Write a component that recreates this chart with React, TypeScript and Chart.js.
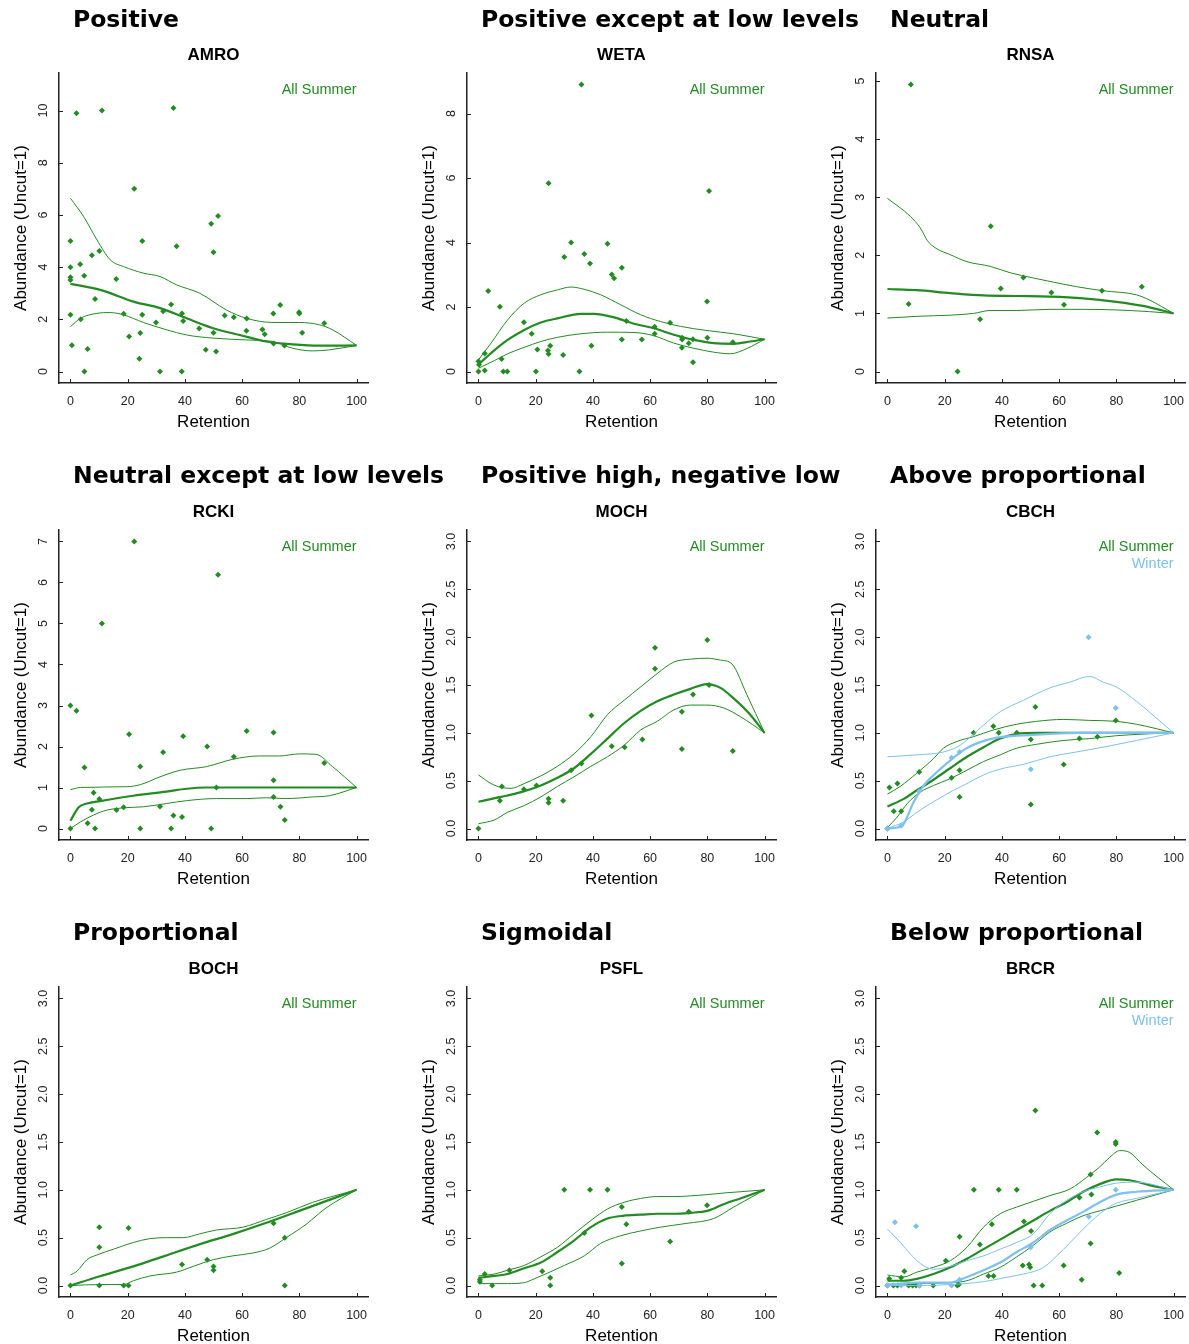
import React, { useEffect, useRef } from 'react';
import { Chart, registerables } from 'chart.js';

Chart.register(...registerables);

type Pt = [number, number];

// ---------------- data ----------------
const X_TICKS = [0, 20, 40, 60, 80, 100];
const Y_TICKS_AMRO = [0, 2, 4, 6, 8, 10];
const Y_TICKS_WETA = [0, 2, 4, 6, 8];
const Y_TICKS_RNSA = [0, 1, 2, 3, 4, 5];
const Y_TICKS_RCKI = [0, 1, 2, 3, 4, 5, 6, 7];
const Y_TICKS_3 = [0, 0.5, 1, 1.5, 2, 2.5, 3];

const AMRO_SUMMER: Pt[] = [[2.1,9.9],[11.0,10.0],[36.0,10.1],[22.3,7.0],[51.6,5.96],[49.2,5.66],[0,5.0],[25.1,5.0],[37.1,4.8],[50.0,4.57],[10.1,4.62],[7.5,4.46],[3.4,4.11],[0,4.0],[4.8,3.67],[0,3.61],[0,3.51],[16.0,3.55],[8.6,2.78],[35.2,2.57],[73.3,2.55],[0,2.18],[18.6,2.21],[25.1,2.18],[39.0,2.22],[32.4,2.31],[3.6,2.0],[39.4,1.94],[29.9,1.88],[53.9,2.15],[57.1,2.08],[61.6,2.03],[70.9,2.22],[79.9,2.27],[80.0,2.22],[88.7,1.85],[45.0,1.65],[61.5,1.56],[67.1,1.61],[67.9,1.43],[50.0,1.49],[81.0,1.49],[20.5,1.34],[24.4,1.48],[71.0,1.07],[74.8,1.0],[0.5,1.01],[6.0,0.86],[47.3,0.83],[50.9,0.77],[24.1,0.49],[4.9,0],[31.3,0],[38.9,0]];
const AMRO_MEAN: Pt[] = [[0,3.36],[10.4,3.13],[22,2.68],[31.3,2.43],[40.6,2.04],[49.9,1.66],[59.2,1.40],[68.4,1.15],[77.7,1.04],[87,0.99],[100,1.0]];
const AMRO_UPPER: Pt[] = [[0,6.64],[4.6,5.94],[9.3,5.04],[13.9,4.28],[18.6,4.02],[25.5,3.77],[31.3,3.64],[37.1,3.32],[45.2,3.0],[54.5,2.36],[61.5,2.04],[70.8,1.88],[80,1.88],[87,1.79],[91.6,1.60],[100,1.0]];
const AMRO_LOWER: Pt[] = [[0,1.72],[3.5,2.04],[9.3,2.23],[13.9,2.26],[18.6,2.17],[25.5,1.88],[33.6,1.60],[40.6,1.40],[49.9,1.28],[61.5,1.21],[70.8,1.15],[77.7,0.89],[84.7,0.79],[90.5,0.83],[100,1.0]];

const WETA_SUMMER: Pt[] = [[36.0,8.9],[24.5,5.84],[80.6,5.60],[32.4,4.0],[45.1,3.96],[37.0,3.64],[30.0,3.55],[39.0,3.35],[50.1,3.22],[46.6,3.01],[47.4,2.89],[3.4,2.50],[79.9,2.17],[7.5,2.01],[15.9,1.53],[51.7,1.57],[67.0,1.51],[61.6,1.39],[18.6,1.17],[61.6,1.17],[71.2,1.05],[71.2,0.99],[80.0,1.05],[50.1,0.99],[57.1,0.99],[75.0,1.0],[73.5,0.88],[88.9,0.91],[71.1,0.74],[20.6,0.68],[25.1,0.80],[39.5,0.80],[24.3,0.65],[24.5,0.54],[2.2,0.56],[29.6,0.51],[8.1,0.39],[75.0,0.29],[0,0.32],[0.2,0.21],[0,0],[2.2,0.03],[8.7,0],[10.1,0],[20.1,0],[35.3,0]];
const WETA_MEAN: Pt[] = [[0,0.21],[4.4,0.57],[10.2,0.98],[16,1.29],[21.8,1.52],[27.6,1.65],[35.8,1.79],[40.4,1.79],[47.4,1.68],[54.4,1.48],[61.3,1.34],[68.3,1.14],[75.3,0.98],[82.2,0.88],[89.2,0.86],[95,0.93],[100,1.0]];
const WETA_UPPER: Pt[] = [[0,0.36],[4.4,0.88],[10.2,1.60],[16,2.12],[21.8,2.38],[27.6,2.53],[32.3,2.62],[36.9,2.55],[42.7,2.38],[49.7,2.07],[56.7,1.76],[63.6,1.55],[70.6,1.40],[79.9,1.27],[89.2,1.17],[100,1.0]];
const WETA_LOWER: Pt[] = [[0,0.10],[5.6,0.34],[10.2,0.55],[16,0.75],[21.8,0.93],[27.6,1.06],[35.8,1.17],[45.1,1.22],[54.4,1.21],[61.3,1.11],[68.3,0.88],[75.3,0.72],[82.2,0.60],[88,0.55],[94,0.72],[100,1.0]];

const RNSA_SUMMER: Pt[] = [[8.2,4.94],[36.1,2.50],[47.5,1.62],[39.6,1.43],[88.9,1.46],[57.3,1.36],[75.0,1.39],[7.4,1.16],[61.7,1.15],[32.4,0.90],[24.5,0]];
const RNSA_MEAN: Pt[] = [[0,1.42],[10.3,1.40],[22,1.35],[33.6,1.31],[45.2,1.30],[56.8,1.29],[68.4,1.26],[80,1.20],[89.3,1.13],[100,1.0]];
const RNSA_UPPER: Pt[] = [[0,2.98],[8,2.67],[11.5,2.47],[14,2.25],[17,2.12],[22,2.01],[27.8,1.89],[35.9,1.81],[42.9,1.70],[51,1.61],[56.8,1.55],[66.1,1.46],[75.4,1.39],[87,1.32],[91.6,1.23],[100,1.0]];
const RNSA_LOWER: Pt[] = [[0,0.92],[10.3,0.95],[22,0.97],[30.1,1.0],[35.9,1.05],[45.2,1.05],[56.8,1.07],[68.4,1.07],[80,1.06],[91.6,1.03],[100,1.0]];

const RCKI_SUMMER: Pt[] = [[22.3,7.0],[51.6,6.19],[11.0,5.0],[0,3.0],[2.1,2.87],[61.6,2.38],[71.0,2.34],[20.5,2.30],[39.4,2.25],[47.8,2.0],[32.4,1.86],[57.1,1.75],[88.7,1.60],[24.4,1.51],[4.9,1.49],[71.0,1.18],[51.0,1.0],[8.1,0.87],[71.0,0.77],[10.1,0.72],[73.4,0.53],[31.3,0.54],[18.6,0.52],[16.1,0.45],[7.5,0.46],[36.0,0.32],[39.0,0.28],[74.9,0.21],[6.0,0.13],[0,0],[8.6,0],[24.4,0],[35.2,0],[49.2,0]];
const RCKI_MEAN: Pt[] = [[0,0.19],[2.9,0.52],[5.8,0.61],[10.4,0.67],[22,0.80],[33.6,0.90],[40.6,0.97],[47.6,1.0],[100,1.0]];
const RCKI_UPPER: Pt[] = [[0,0.95],[3.5,1.0],[19.7,1.02],[24.4,1.07],[31.3,1.26],[38.3,1.42],[47.6,1.51],[56.8,1.69],[66.1,1.77],[73.1,1.77],[80,1.82],[85.8,1.81],[91.6,1.51],[100,1.0]];
const RCKI_LOWER: Pt[] = [[0,0],[3.5,0.16],[8.1,0.33],[12.8,0.45],[19.7,0.51],[25.5,0.53],[33.6,0.61],[40.6,0.68],[51,0.73],[61.5,0.73],[68.4,0.75],[75.4,0.73],[84.7,0.77],[90.5,0.80],[100,1.0]];

const MOCH_SUMMER: Pt[] = [[80.0,1.97],[61.7,1.89],[61.7,1.67],[80.6,1.50],[75.0,1.40],[39.5,1.18],[71.1,1.22],[57.3,0.93],[46.6,0.86],[51.1,0.85],[71.1,0.83],[88.9,0.81],[36.0,0.68],[32.4,0.61],[8.2,0.44],[20.3,0.45],[15.9,0.41],[24.5,0.31],[24.5,0.27],[7.5,0.29],[29.6,0.29],[0,0]];
const MOCH_MEAN: Pt[] = [[0,0.28],[7.9,0.33],[14.9,0.38],[21.8,0.45],[27.6,0.53],[33.4,0.63],[39.3,0.78],[45.1,0.94],[50.9,1.10],[56.7,1.23],[62.5,1.33],[68.3,1.40],[74.1,1.46],[79.9,1.51],[84.6,1.47],[89.2,1.36],[95,1.19],[100,1.0]];
const MOCH_UPPER: Pt[] = [[0,0.56],[4.4,0.47],[7.9,0.43],[11.4,0.42],[16,0.47],[21.8,0.55],[27.6,0.65],[33.4,0.78],[39.3,0.96],[45.1,1.19],[50.9,1.34],[56.7,1.48],[62.5,1.62],[68.3,1.74],[74.1,1.77],[79.9,1.78],[84.6,1.76],[88.6,1.72],[93.8,1.40],[100,1.0]];
const MOCH_LOWER: Pt[] = [[0,0.05],[5.6,0.09],[10.2,0.17],[16,0.24],[21.8,0.33],[27.6,0.44],[33.4,0.54],[39.3,0.65],[45.1,0.75],[50.9,0.87],[56.7,1.03],[62.5,1.12],[68.3,1.24],[74.1,1.29],[79.9,1.29],[85.7,1.26],[91.5,1.17],[100,1.0]];

const CBCH_SUMMER: Pt[] = [[37.0,1.07],[51.7,1.27],[79.8,1.13],[30.1,1.0],[38.9,1.0],[45.2,1.0],[50.1,0.93],[67.1,0.94],[73.4,0.96],[61.6,0.67],[11.1,0.59],[25.2,0.61],[22.4,0.53],[0.7,0.43],[3.5,0.47],[25.2,0.33],[50.1,0.25],[2.2,0.18],[4.8,0.18],[0,0]];
const CBCH_MEAN: Pt[] = [[0,0.23],[5.7,0.31],[10.3,0.40],[16.1,0.51],[21.9,0.63],[27.8,0.75],[33.6,0.85],[39.4,0.94],[45.2,0.99],[52.1,1.0],[100,1.0]];
const CBCH_UPPER: Pt[] = [[0,0.36],[4.5,0.44],[10.3,0.58],[16.1,0.73],[19.6,0.84],[24.3,0.91],[30.1,0.96],[37,1.03],[45.2,1.09],[52.1,1.12],[61.4,1.14],[70.7,1.13],[80,1.12],[87,1.09],[100,1.0]];
const CBCH_LOWER: Pt[] = [[0,0.01],[3.4,0.12],[6.9,0.26],[11.5,0.38],[16.1,0.45],[21.9,0.52],[27.8,0.61],[33.6,0.70],[39.4,0.77],[45.2,0.84],[52.1,0.88],[61.4,0.92],[70.7,0.94],[80,0.97],[91.6,0.99],[100,1.0]];
const CBCH_WINTER: Pt[] = [[70.3,2.0],[79.8,1.26],[50.1,0.62],[22.4,0.74],[25.2,0.80],[11.1,0.39],[4.8,0.03],[0,0]];
const CBCH_W_MEAN: Pt[] = [[0,0],[3.4,0.01],[5.7,0.05],[9.2,0.28],[12.7,0.45],[17.3,0.59],[21.9,0.71],[26.6,0.82],[31.2,0.89],[38.2,0.95],[45.2,0.97],[56.8,0.99],[68.4,1.0],[100,1.0]];
const CBCH_W_UPPER: Pt[] = [[0,0.75],[10.3,0.77],[19.6,0.80],[25.4,0.87],[32.4,1.05],[39.4,1.22],[47.5,1.34],[56.8,1.47],[63.8,1.53],[70.7,1.59],[75.4,1.53],[80,1.48],[87,1.33],[100,1.0]];
const CBCH_W_LOWER: Pt[] = [[0,0],[5.7,0.07],[10.3,0.17],[16.1,0.28],[21.9,0.38],[27.8,0.47],[33.6,0.56],[40.5,0.63],[47.5,0.67],[56.8,0.75],[66.1,0.80],[75.4,0.85],[87,0.92],[100,1.0]];

const BOCH_SUMMER: Pt[] = [[10.1,0.61],[20.3,0.60],[10.1,0.40],[71.0,0.65],[74.9,0.50],[47.8,0.27],[39.0,0.22],[50,0.20],[50,0.16],[0,0],[10.1,0],[18.6,0],[20.3,0],[74.9,0]];
const BOCH_MEAN: Pt[] = [[0,0],[10,0.095],[22,0.2],[33,0.31],[45,0.43],[57,0.54],[68,0.65],[80,0.78],[90,0.89],[100,1.0]];
const BOCH_UPPER: Pt[] = [[0,0.11],[2.3,0.15],[5.8,0.27],[9.3,0.32],[15.1,0.38],[22,0.45],[27.8,0.49],[33.6,0.50],[39.4,0.50],[45.2,0.54],[51,0.58],[60.3,0.61],[68.4,0.69],[75.4,0.76],[84.7,0.87],[100,1.0]];
const BOCH_LOWER: Pt[] = [[0,0],[10.4,0.01],[18.6,0.01],[22,0.05],[27.8,0.10],[37.1,0.14],[42.9,0.20],[49.9,0.27],[56.8,0.31],[63.8,0.34],[69.6,0.39],[75.4,0.50],[82.4,0.64],[89.3,0.81],[100,1.0]];

const PSFL_SUMMER: Pt[] = [[30.0,1.0],[39.0,1.0],[45.1,1.0],[50.1,0.82],[79.9,0.84],[73.5,0.77],[51.7,0.64],[37.0,0.55],[67.0,0.46],[50.1,0.23],[10.8,0.16],[22.3,0.15],[2.2,0.12],[25.1,0.08],[0.5,0.06],[0.5,0.04],[4.8,0],[25.1,0]];
const PSFL_MEAN: Pt[] = [[0,0.08],[5.6,0.10],[10.2,0.12],[16,0.18],[21.8,0.24],[27.6,0.35],[33.4,0.47],[39.3,0.61],[45.1,0.70],[50.9,0.73],[56.7,0.74],[62.5,0.75],[68.3,0.75],[74.1,0.76],[79.9,0.78],[85.7,0.85],[91.5,0.91],[100,1.0]];
const PSFL_UPPER: Pt[] = [[0,0.10],[5.6,0.12],[10.2,0.16],[16,0.21],[21.8,0.30],[27.6,0.40],[33.4,0.54],[39.3,0.68],[45.1,0.80],[50.9,0.87],[56.7,0.91],[62.5,0.93],[68.3,0.93],[79.9,0.95],[86.9,0.97],[91.5,0.98],[100,1.0]];
const PSFL_LOWER: Pt[] = [[0,0.02],[5.6,0.02],[10.2,0.02],[16,0.03],[19.5,0.07],[24.2,0.13],[30,0.21],[37,0.31],[42.7,0.44],[49.7,0.52],[56.7,0.57],[63.6,0.61],[72.9,0.65],[82.2,0.70],[89.2,0.82],[100,1.0]];

const BRCR_SUMMER: Pt[] = [[51.7,1.83],[73.3,1.60],[79.8,1.48],[79.8,1.50],[71.0,1.16],[30.2,1.0],[38.9,1.0],[45.2,1.0],[67.1,0.92],[71.3,0.95],[47.7,0.67],[36.5,0.64],[50.2,0.57],[25.2,0.51],[32.3,0.43],[71.0,0.44],[20.4,0.26],[49.5,0.22],[47.3,0.21],[49.9,0.19],[61.6,0.21],[5.9,0.15],[35.3,0.10],[37.1,0.10],[81.0,0.13],[67.9,0.06],[0.6,0.07],[4.8,0.08],[51.1,0],[54.1,0],[24.4,0],[16.0,0],[2.1,0],[3.5,0],[7.4,0],[8.8,0],[10.0,0],[11.2,0],[0,0],[25.0,0.01]];
const BRCR_MEAN: Pt[] = [[0,0.05],[5.7,0.05],[10.3,0.07],[16.1,0.12],[22,0.19],[27.8,0.28],[33.6,0.38],[39.4,0.48],[45.2,0.58],[51,0.68],[56.8,0.78],[62.6,0.87],[68.4,0.98],[74.2,1.06],[80,1.11],[84.7,1.10],[91.6,1.05],[100,1.0]];
const BRCR_UPPER: Pt[] = [[0,0.11],[5.7,0.09],[10.3,0.14],[16.1,0.19],[22,0.26],[27.8,0.40],[33.6,0.61],[39.4,0.75],[45.2,0.82],[51,0.88],[56.8,0.94],[63.9,1.01],[69.6,1.13],[74.2,1.24],[77.7,1.34],[81.2,1.41],[84.7,1.39],[89.3,1.26],[100,1.0]];
const BRCR_LOWER: Pt[] = [[0,0.01],[10.3,0.02],[22,0.03],[27.8,0.05],[33.6,0.12],[39.4,0.19],[45.2,0.30],[51,0.42],[56.8,0.56],[62.6,0.65],[68.4,0.73],[74.2,0.78],[80,0.83],[87,0.89],[100,1.0]];
const BRCR_WINTER: Pt[] = [[2.6,0.66],[10.0,0.62],[79.8,1.0],[70.4,0.72],[50.1,0.40],[25.2,0.06],[22.4,0],[0,0],[4.8,0],[11.1,0]];
const BRCR_W_MEAN: Pt[] = [[0,0.01],[10.3,0.03],[22,0.03],[27.8,0.09],[33.6,0.16],[39.4,0.24],[45.2,0.35],[51,0.45],[56.8,0.58],[62.6,0.68],[68.4,0.77],[74.2,0.87],[80,0.95],[87,0.98],[100,1.0]];
const BRCR_W_UPPER: Pt[] = [[0,0.59],[4.5,0.45],[8,0.33],[11.5,0.23],[16.1,0.17],[22,0.20],[27.8,0.26],[33.6,0.31],[39.4,0.38],[45.2,0.45],[51,0.54],[56.8,0.75],[62.6,0.89],[68.4,0.98],[74.2,1.03],[80,1.07],[87,1.08],[100,1.0]];
const BRCR_W_LOWER: Pt[] = [[0,0],[10.3,0],[22,0.01],[33.6,0.04],[40.6,0.08],[47.6,0.12],[54.6,0.19],[59.2,0.31],[63.9,0.45],[68.4,0.59],[74.2,0.75],[80,0.86],[87,0.91],[100,1.0]];

// ---------------- styles / layout ----------------
const GREEN = '#228B22';
const BLUE = '#7EC0EE';
const AXIS = '#222222';
const SANS = '"Liberation Sans", Arial, Helvetica, sans-serif';
const CANVAS_W = 372;
const CANVAS_H = 440;
const COL_X = [0, 408, 817];
const ROW_Y = [0, 457, 914];
const TITLE_BASE = [28, 484, 941];

interface Series { label: string; color: string; points: Pt[]; mean: Pt[]; upper: Pt[]; lower: Pt[] }
interface PanelSpec { title: string; code: string; yMax: number; yTicks: number[]; decimals: number; series: Series[] }

const summer = (points: Pt[], mean: Pt[], upper: Pt[], lower: Pt[]): Series => ({ label: 'All Summer', color: GREEN, points, mean, upper, lower });
const winter = (points: Pt[], mean: Pt[], upper: Pt[], lower: Pt[]): Series => ({ label: 'Winter', color: BLUE, points, mean, upper, lower });

const PANELS: PanelSpec[] = [
  { title: 'Positive', code: 'AMRO', yMax: 11, yTicks: Y_TICKS_AMRO, decimals: 0, series: [summer(AMRO_SUMMER, AMRO_MEAN, AMRO_UPPER, AMRO_LOWER)] },
  { title: 'Positive except at low levels', code: 'WETA', yMax: 8.9, yTicks: Y_TICKS_WETA, decimals: 0, series: [summer(WETA_SUMMER, WETA_MEAN, WETA_UPPER, WETA_LOWER)] },
  { title: 'Neutral', code: 'RNSA', yMax: 4.94, yTicks: Y_TICKS_RNSA, decimals: 0, series: [summer(RNSA_SUMMER, RNSA_MEAN, RNSA_UPPER, RNSA_LOWER)] },
  { title: 'Neutral except at low levels', code: 'RCKI', yMax: 7, yTicks: Y_TICKS_RCKI, decimals: 0, series: [summer(RCKI_SUMMER, RCKI_MEAN, RCKI_UPPER, RCKI_LOWER)] },
  { title: 'Positive high, negative low', code: 'MOCH', yMax: 3, yTicks: Y_TICKS_3, decimals: 1, series: [summer(MOCH_SUMMER, MOCH_MEAN, MOCH_UPPER, MOCH_LOWER)] },
  { title: 'Above proportional', code: 'CBCH', yMax: 3, yTicks: Y_TICKS_3, decimals: 1, series: [summer(CBCH_SUMMER, CBCH_MEAN, CBCH_UPPER, CBCH_LOWER), winter(CBCH_WINTER, CBCH_W_MEAN, CBCH_W_UPPER, CBCH_W_LOWER)] },
  { title: 'Proportional', code: 'BOCH', yMax: 3, yTicks: Y_TICKS_3, decimals: 1, series: [summer(BOCH_SUMMER, BOCH_MEAN, BOCH_UPPER, BOCH_LOWER)] },
  { title: 'Sigmoidal', code: 'PSFL', yMax: 3, yTicks: Y_TICKS_3, decimals: 1, series: [summer(PSFL_SUMMER, PSFL_MEAN, PSFL_UPPER, PSFL_LOWER)] },
  { title: 'Below proportional', code: 'BRCR', yMax: 3, yTicks: Y_TICKS_3, decimals: 1, series: [summer(BRCR_SUMMER, BRCR_MEAN, BRCR_UPPER, BRCR_LOWER), winter(BRCR_WINTER, BRCR_W_MEAN, BRCR_W_UPPER, BRCR_W_LOWER)] },
];

const toXY = (pts: Pt[]) => pts.map(([x, y]) => ({ x, y }));

const decorPlugin = {
  id: 'decor',
  afterDraw(chart: any, _args: any, o: any) {
    const { ctx, chartArea: a } = chart;
    const xs = chart.scales.x;
    const ys = chart.scales.y;
    ctx.save();
    // inward tick marks
    ctx.strokeStyle = AXIS;
    ctx.lineWidth = 1;
    for (const t of xs.ticks) {
      const px = Math.round(xs.getPixelForValue(t.value)) + 0.5;
      ctx.beginPath(); ctx.moveTo(px, a.bottom); ctx.lineTo(px, a.bottom - 4); ctx.stroke();
    }
    for (const t of ys.ticks) {
      const py = Math.round(ys.getPixelForValue(t.value)) + 0.5;
      ctx.beginPath(); ctx.moveTo(a.left, py); ctx.lineTo(a.left + 4, py); ctx.stroke();
    }
    ctx.fillStyle = AXIS;
    ctx.textBaseline = 'alphabetic';
    ctx.textAlign = 'center';
    ctx.font = `12.5px ${SANS}`;
    for (const t of xs.ticks) {
      ctx.fillText(String(t.value), xs.getPixelForValue(t.value), a.bottom + 22);
    }
    for (const t of ys.ticks) {
      ctx.save();
      ctx.translate(a.left - 12.5, ys.getPixelForValue(t.value));
      ctx.rotate(-Math.PI / 2);
      ctx.fillText(Number(t.value).toFixed(o.decimals), 0, 0);
      ctx.restore();
    }
    ctx.fillStyle = '#000';
    ctx.font = `17px ${SANS}`;
    ctx.fillText('Retention', (a.left + a.right) / 2, a.bottom + 44);
    ctx.save();
    ctx.translate(a.left - 33.5, (a.top + a.bottom) / 2);
    ctx.rotate(-Math.PI / 2);
    ctx.fillText('Abundance (Uncut=1)', 0, 0);
    ctx.restore();
    ctx.font = `bold 17px ${SANS}`;
    ctx.fillText(o.code, (a.left + a.right) / 2, a.top - 13);
    ctx.font = `14.5px ${SANS}`;
    ctx.textAlign = 'right';
    const lx = xs.getPixelForValue(100);
    (o.legend || []).forEach((l: any, i: number) => {
      ctx.fillStyle = l.color;
      ctx.fillText(l.label, lx, a.top + 20.5 + i * 17.7);
    });
    ctx.restore();
  },
};

function buildConfig(p: PanelSpec): any {
  const datasets: any[] = [];
  p.series.forEach((s) => {
    const line = (pts: Pt[], w: number) => ({
      type: 'line',
      data: toXY(pts),
      borderColor: s.color,
      borderWidth: w,
      pointRadius: 0,
      fill: false,
      cubicInterpolationMode: 'monotone',
      showLine: true,
    });
    datasets.push(line(s.mean, 2.2));
    datasets.push(line(s.upper, 1));
    datasets.push(line(s.lower, 1));
    datasets.push({
      type: 'scatter',
      data: toXY(s.points),
      pointStyle: 'rectRot',
      pointRadius: 3,
      backgroundColor: s.color,
      borderColor: s.color,
      borderWidth: 0,
      showLine: false,
    });
  });
  // later series drawn above earlier ones
  datasets.forEach((d, i) => { d.order = datasets.length - i; });
  const pad = 0.04 * p.yMax;
  return {
    type: 'scatter',
    data: { datasets },
    plugins: [decorPlugin],
    options: {
      animation: false,
      responsive: false,
      devicePixelRatio: 1,
      events: [],
      layout: { padding: { top: 73, right: 3, bottom: 0, left: 0 } },
      plugins: {
        legend: { display: false },
        tooltip: { enabled: false },
        title: { display: false },
        decor: {
          code: p.code,
          decimals: p.decimals,
          legend: p.series.map((s) => ({ label: s.label, color: s.color })),
        },
      },
      scales: {
        x: {
          type: 'linear',
          min: -4,
          max: 104,
          grid: { display: false },
          border: { display: true, color: AXIS, width: 1.5 },
          ticks: { display: false },
          afterBuildTicks: (s: any) => { s.ticks = X_TICKS.map((v) => ({ value: v })); },
          afterFit: (s: any) => { s.height = CANVAS_H - 383; },
        },
        y: {
          type: 'linear',
          min: -pad,
          max: p.yMax + pad,
          grid: { display: false },
          border: { display: true, color: AXIS, width: 1.5 },
          ticks: { display: false },
          afterBuildTicks: (s: any) => { s.ticks = p.yTicks.map((v) => ({ value: v })); },
          afterFit: (s: any) => { s.width = 59; },
        },
      },
    },
  };
}

function Panel({ spec, left, top }: { spec: PanelSpec; left: number; top: number }) {
  const ref = useRef<HTMLCanvasElement>(null);
  useEffect(() => {
    if (!ref.current) return;
    const chart = new Chart(ref.current, buildConfig(spec));
    return () => chart.destroy();
  }, [spec]);
  return (
    <canvas
      ref={ref}
      width={CANVAS_W}
      height={CANVAS_H}
      style={{ position: 'absolute', left, top, width: CANVAS_W, height: CANVAS_H, display: 'block' }}
    />
  );
}

export default function App() {
  return (
    <div style={{ position: 'absolute', left: 0, top: 0, width: 1189, height: 1344, background: '#fff', overflow: 'hidden' }}>
      {PANELS.map((p, i) => (
        <Panel key={p.code} spec={p} left={COL_X[i % 3]} top={ROW_Y[Math.floor(i / 3)]} />
      ))}
      {PANELS.map((p, i) => (
        <div
          key={'t' + p.code}
          style={{
            position: 'absolute',
            left: COL_X[i % 3] + 73,
            top: TITLE_BASE[Math.floor(i / 3)] - 20,
            fontFamily: '"DejaVu Sans", Verdana, sans-serif',
            fontWeight: 'bold',
            fontSize: '23.5px',
            lineHeight: '23.5px',
            whiteSpace: 'nowrap',
            color: '#000',
            zIndex: 2,
          }}
        >
          {p.title}
        </div>
      ))}
    </div>
  );
}
